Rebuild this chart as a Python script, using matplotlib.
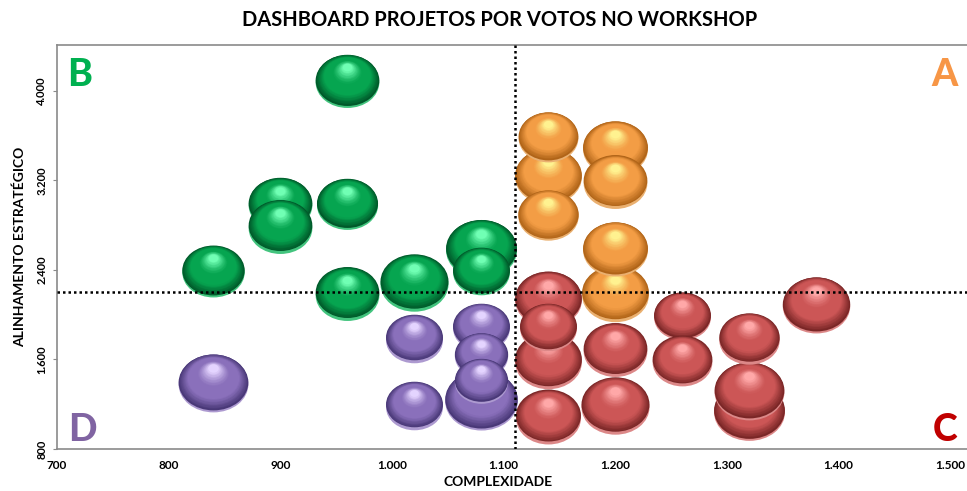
import matplotlib
matplotlib.use("Agg")
import matplotlib.pyplot as plt
import numpy as np
from matplotlib.path import Path
from matplotlib.transforms import Affine2D, ScaledTranslation
from matplotlib.ticker import FuncFormatter
from matplotlib.colors import to_rgb

# dados: complexidade (x), alinhamento estrategico (y), votos (tamanho da bolha)
verde_x = [960, 900, 900, 960, 840, 960, 1020, 1080, 1080]
verde_y = [4100, 3000, 2800, 3000, 2400, 2200, 2300, 2600, 2400]
verde_v = [5, 5, 5, 4.6, 4.8, 5, 5.7, 6.2, 4]

laranja_x = [1140, 1140, 1140, 1200, 1200, 1200, 1200]
laranja_y = [3600, 3250, 2900, 3500, 3200, 2600, 2200]
laranja_v = [4.4, 5.5, 4.5, 5.2, 5, 5.2, 5.5]

vermelho_x = [1140, 1140, 1140, 1140, 1200, 1200, 1260, 1260, 1320, 1380, 1320, 1320]
vermelho_y = [2150, 1600, 1900, 1100, 1700, 1200, 2000, 1600, 1800, 2100, 1150, 1330]
vermelho_v = [5.5, 5.5, 4, 5.2, 5, 5.7, 4, 4.4, 4.5, 5.6, 6.2, 6]

roxo_x = [1080, 1080, 1080, 1080, 1020, 1020, 840]
roxo_y = [1250, 1900, 1650, 1420, 1800, 1200, 1400]
roxo_v = [6.5, 4, 3.5, 3.5, 4, 4, 6]

x_ticks = [700, 800, 900, 1000, 1100, 1200, 1300, 1400, 1500]
y_ticks = [800, 1600, 2400, 3200, 4000]
corte_x = 1110
corte_y = 2200

# cores: (borda escura, meio, brilho, reflexo inferior)
cores = {
    "verde": ("#00592a", "#06a550", "#70ffb4", "#43c47e"),
    "laranja": ("#b06418", "#f39d45", "#fff290", "#eab070"),
    "vermelho": ("#7a2626", "#cc5656", "#ffa8a8", "#dc8888"),
    "roxo": ("#493877", "#8a70bb", "#e4d4ff", "#ad9ad0"),
}

plt.rcParams["font.family"] = ["Lato", "DejaVu Sans"]

fig = plt.figure(figsize=(9.67, 4.91), dpi=100)
ax = fig.add_axes([57 / 967, 42 / 491, 1 - 57 / 967, (449 - 45) / 491])

elipse = Path.unit_circle().transformed(Affine2D().scale(1, 0.8))
largura_pt = 20.5


def mistura(c, f):
    escuro, meio, claro = (np.array(to_rgb(k)) for k in c[:3])
    if f < 0.3:
        t = f / 0.3
        return tuple(escuro * (1 - t) + meio * t)
    if f < 0.62:
        return tuple(meio)
    t = ((f - 0.62) / 0.38) ** 1.3
    return tuple(meio * (1 - t) + claro * t)


def desloca(dy):
    return ax.transData + ScaledTranslation(0, dy / 72, fig.dpi_scale_trans)


def bolha(x, y, v, c):
    w = np.sqrt(v) * largura_pt
    h = 0.8 * w
    # reflexo na base
    ax.scatter([x], [y], s=w ** 2, marker=elipse, color=c[3], linewidths=0,
               transform=desloca(-1.8), zorder=2)
    n = 30
    for k in range(n):
        f = k / (n - 1)
        fator = 1 - 0.85 * f
        ax.scatter([x], [y], s=(w * fator) ** 2, marker=elipse, color=mistura(c, f),
                   linewidths=0, transform=desloca(0.24 * f * h), zorder=2)


bolhas = []
for nome, xs, ys, vs in [("verde", verde_x, verde_y, verde_v),
                         ("laranja", laranja_x, laranja_y, laranja_v),
                         ("vermelho", vermelho_x, vermelho_y, vermelho_v),
                         ("roxo", roxo_x, roxo_y, roxo_v)]:
    for x, y, v in zip(xs, ys, vs):
        bolhas.append((x, y, v, cores[nome]))

# maiores primeiro (atras)
for x, y, v, c in sorted(bolhas, key=lambda b: -round(b[2])):
    bolha(x, y, v, c)

ax.axvline(corte_x, color="black", linestyle=(0, (1, 1.2)), linewidth=1.8, zorder=5)
ax.axhline(corte_y, color="black", linestyle=(0, (1, 1.2)), linewidth=1.8, zorder=5)

ax.set_xlim(700, 1515)
ax.set_ylim(800, 4410)
ax.set_xticks(x_ticks)
ax.set_yticks(y_ticks)
fmt = FuncFormatter(lambda v, p: f"{int(v):,}".replace(",", "."))
ax.xaxis.set_major_formatter(fmt)
ax.yaxis.set_major_formatter(fmt)

for lado in ["top", "bottom", "left"]:
    ax.spines[lado].set_color("#8a8a8a")
    ax.spines[lado].set_linewidth(1.2)
ax.spines["right"].set_visible(False)
ax.tick_params(axis="y", length=3, color="#8a8a8a", labelsize=8, pad=4)
ax.tick_params(axis="x", length=0, pad=8, labelsize=8.5)
for lab in ax.get_xticklabels():
    lab.set_fontweight("bold")
for lab in ax.get_yticklabels():
    lab.set_rotation(90)
    lab.set_va("center")
    lab.set_fontweight("bold")

ax.set_xlabel("COMPLEXIDADE", fontsize=10, fontweight="bold")
ax.xaxis.set_label_coords((498 - 57) / 910, -0.068)
ax.set_ylabel("ALINHAMENTO ESTRATÉGICO", fontsize=10, fontweight="bold")
ax.yaxis.set_label_coords(-0.034, 0.5)

fig.text(500 / 967, 1 - 20 / 491, "DASHBOARD PROJETOS POR VOTOS NO WORKSHOP",
         ha="center", va="center", fontsize=14.5, fontweight="bold")

letras = [("B", 80, 75, "#00b050"), ("A", 945, 75, "#f79646"),
          ("C", 945, 430, "#c00000"), ("D", 82, 430, "#8064a2")]
for txt, px, py, cor in letras:
    fig.text(px / 967, 1 - py / 491, txt, ha="center", va="center",
             fontsize=27, fontweight="black", color=cor)

fig.savefig("out.png", dpi=100)
